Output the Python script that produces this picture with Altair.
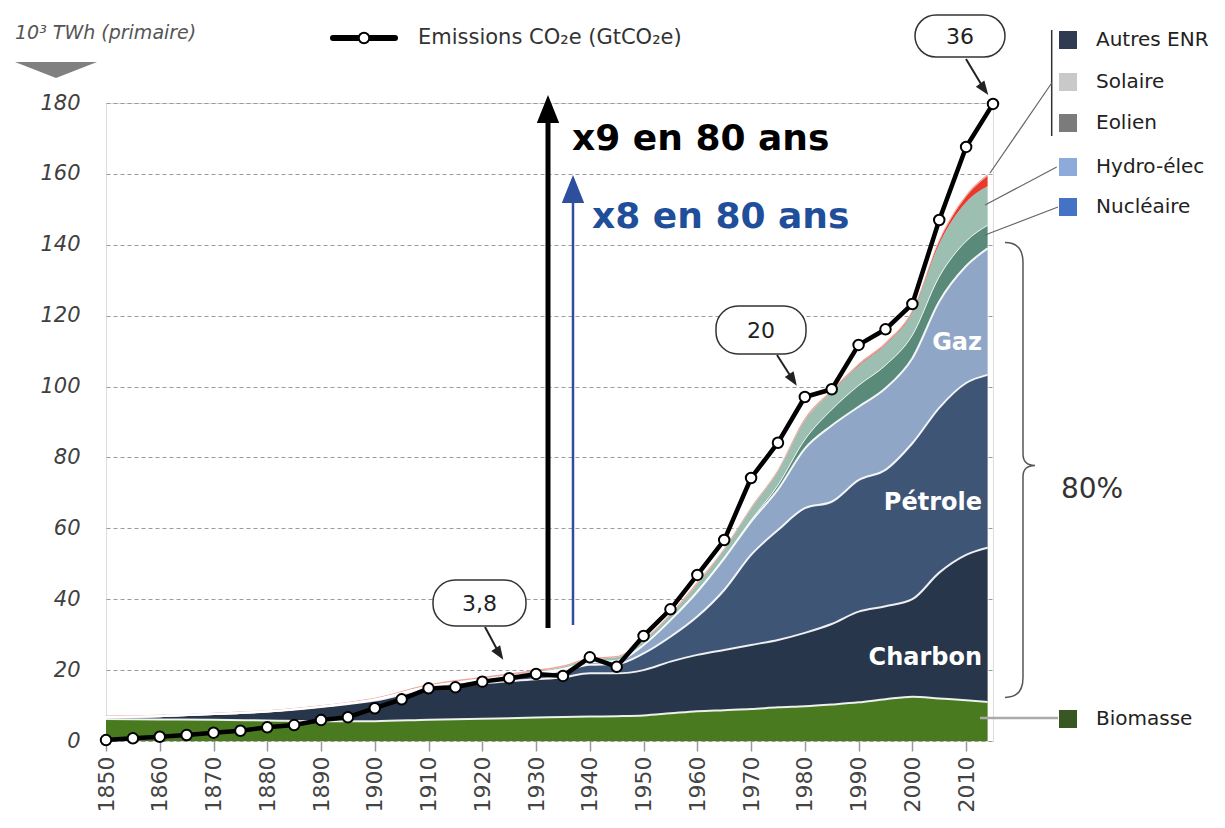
import altair as alt
import pandas as pd

# ---------------- data ----------------
years = [1850, 1860, 1870, 1880, 1890, 1900, 1910, 1920, 1930, 1935, 1940, 1945, 1950,
         1955, 1960, 1965, 1970, 1975, 1980, 1985, 1990, 1995, 2000, 2005, 2010, 2014]

biomasse = [6.2, 6.1, 6.0, 5.8, 5.6, 5.6, 6.0, 6.3, 6.6, 6.8, 6.9, 7.0, 7.2,
            7.8, 8.4, 8.7, 9.0, 9.5, 9.8, 10.3, 10.9, 11.8, 12.5, 12.0, 11.5, 11.0]
charbon = [0.6, 0.9, 1.6, 2.5, 4.0, 5.8, 8.8, 10.0, 10.8, 11.2, 12.2, 12.1, 12.8,
           14.6, 15.9, 17.0, 18.1, 19.0, 20.7, 22.7, 25.6, 26.2, 27.5, 35.5, 41.0, 43.5]
petrole = [0.0, 0.0, 0.0, 0.0, 0.1, 0.3, 0.5, 0.9, 1.4, 1.8, 2.4, 2.6, 4.7,
           7.0, 10.8, 16.9, 25.4, 31.0, 35.2, 34.5, 37.1, 38.5, 44.0, 46.5, 48.5, 48.8]
gaz = [0.0, 0.0, 0.0, 0.0, 0.0, 0.0, 0.1, 0.2, 0.4, 0.5, 0.7, 0.9, 2.4,
       4.7, 7.0, 8.9, 9.4, 11.5, 16.8, 21.5, 20.7, 23.0, 24.0, 30.0, 33.0, 35.7]
nucleaire = [0.0, 0.0, 0.0, 0.0, 0.0, 0.0, 0.0, 0.0, 0.0, 0.0, 0.0, 0.0, 0.0,
             0.0, 0.1, 0.2, 0.4, 1.2, 2.5, 4.5, 6.0, 6.5, 6.5, 7.0, 7.0, 6.5]
hydro = [0.0, 0.0, 0.0, 0.0, 0.0, 0.1, 0.2, 0.3, 0.5, 0.6, 0.9, 1.0, 1.3,
         1.5, 2.2, 2.3, 3.3, 4.0, 5.5, 5.1, 5.6, 5.9, 6.4, 9.3, 11.0, 11.0]
eolien_solaire = [0.0, 0.0, 0.0, 0.0, 0.0, 0.0, 0.0, 0.0, 0.0, 0.0, 0.0, 0.0, 0.0,
                  0.0, 0.0, 0.0, 0.0, 0.0, 0.0, 0.1, 0.2, 0.2, 0.3, 0.7, 1.6, 3.0]
autres_enr = [0.4, 0.4, 0.4, 0.4, 0.4, 0.4, 0.4, 0.4, 0.4, 0.4, 0.4, 0.4, 0.4,
              0.4, 0.5, 0.4, 0.4, 0.4, 0.6, 0.4, 0.4, 0.4, 0.4, 0.5, 0.5, 0.5]

layer_names = ["Biomasse", "Charbon", "Pétrole", "Gaz", "Nucléaire", "Hydro-élec",
               "Eolien/Solaire", "Autres ENR"]
layer_values = [biomasse, charbon, petrole, gaz, nucleaire, hydro, eolien_solaire, autres_enr]
layer_colors = ["#4a7a20", "#28364b", "#3f5575", "#8fa6c6", "#5a8b7a", "#9dbfb2",
                "#e8392c", "#f2a59c"]

em_years = [1850, 1855, 1860, 1865, 1870, 1875, 1880, 1885, 1890, 1895, 1900, 1905,
            1910, 1915, 1920, 1925, 1930, 1935, 1940, 1945, 1950, 1955, 1960, 1965,
            1970, 1975, 1980, 1985, 1990, 1995, 2000, 2005, 2010, 2015]
em_gt = [0.05, 0.15, 0.24, 0.34, 0.47, 0.58, 0.77, 0.90, 1.18, 1.34, 1.85, 2.35,
         2.97, 3.03, 3.35, 3.54, 3.78, 3.67, 4.72, 4.19, 5.93, 7.43, 9.37, 11.34,
         14.84, 16.83, 19.41, 19.85, 22.35, 23.23, 24.66, 29.40, 33.52, 35.95]

x_ticks = list(range(1850, 2011, 10))
y_ticks = list(range(0, 181, 20))

legend_names = ["Autres ENR", "Solaire", "Eolien", "Hydro-élec", "Nucléaire", "Biomasse"]
legend_colors = ["#2f3b50", "#c9c9c9", "#7b7b7b", "#8eaadb", "#4472c4", "#385723"]

FONT = "DejaVu Sans"

rows = []
for i, (name, vals) in enumerate(zip(layer_names, layer_values)):
    for yr, v in zip(years, vals):
        rows.append({"year": yr, "layer": name, "order": i, "value": v})
df = pd.DataFrame(rows)
em_df = pd.DataFrame({"year": em_years, "gt": em_gt})

xs = alt.Scale(domain=[1850, 2015], nice=False, zero=False)
ys = alt.Scale(domain=[0, 180], nice=False)

base = alt.Chart(df).transform_stack(
    stack="value", groupby=["year"], as_=["y0", "y1"],
    sort=[alt.SortField("order", order="ascending")]
)

areas = base.mark_area(interpolate="monotone").encode(
    x=alt.X("year:Q", scale=xs, title=None,
            axis=alt.Axis(values=x_ticks, format="d", labelAngle=270, grid=False,
                          domain=False, ticks=True, tickColor="#999999", tickSize=10,
                          tickWidth=1.5, labelPadding=5, labelFont=FONT, labelFontSize=22,
                          labelColor="#444444", labelOverlap=False, labelFlush=False)),
    y=alt.Y("y1:Q", scale=ys, title=None,
            axis=alt.Axis(values=y_ticks, grid=True, gridDash=[4, 3], gridColor="#9a9a9a",
                          gridWidth=1.2, domain=False, ticks=False, labelPadding=26,
                          labelFont=FONT, labelFontStyle="italic", labelFontSize=21,
                          labelColor="#404040")),
    y2="y0:Q",
    color=alt.Color("layer:N", scale=alt.Scale(domain=layer_names, range=layer_colors),
                    legend=None),
)

sep_lines = base.transform_filter("datum.order <= 3").mark_line(
    interpolate="monotone", color="white", strokeWidth=2, opacity=0.9
).encode(x=alt.X("year:Q", scale=xs), y=alt.Y("y1:Q", scale=ys), detail="layer:N")

sep_thin = base.transform_filter("datum.order == 4").mark_line(
    interpolate="monotone", color="white", strokeWidth=1, opacity=0.8
).encode(x=alt.X("year:Q", scale=xs), y=alt.Y("y1:Q", scale=ys), detail="layer:N")

em_base = alt.Chart(em_df).transform_calculate(scaled="datum.gt * 5")
em_line = em_base.mark_line(color="black", strokeWidth=4.5).encode(
    x=alt.X("year:Q", scale=xs), y=alt.Y("scaled:Q", scale=ys))
em_pts = em_base.mark_point(shape="circle", filled=True, fill="white", stroke="black",
                            strokeWidth=2, size=110, opacity=1).encode(
    x=alt.X("year:Q", scale=xs), y=alt.Y("scaled:Q", scale=ys))

# ---------------- annotations (pixel positions relative to plot) ----------------
one = pd.DataFrame({"k": [0]})


def txt(s, x, y, **kw):
    kw.setdefault("font", FONT)
    return alt.Chart(one).mark_text(text=s, **kw).encode(x=alt.value(x), y=alt.value(y))


def seg(x1, y1, x2, y2, **kw):
    return alt.Chart(one).mark_rule(**kw).encode(
        x=alt.value(x1), y=alt.value(y1), x2=alt.value(x2), y2=alt.value(y2))


def sym(x, y, **kw):
    return alt.Chart(one).mark_point(opacity=1, **kw).encode(x=alt.value(x), y=alt.value(y))


def box(x1, x2, y1, y2):
    return alt.Chart(one).mark_rect(cornerRadius=22, fill="white", stroke="#333333",
                                    strokeWidth=1.5).encode(
        x=alt.value(x1), x2=alt.value(x2), y=alt.value(y1), y2=alt.value(y2))


HEAD = "M 0 -1 L 0.8 1 L -0.8 1 Z"
SMALL_HEAD = "M 0 -1 L 0.75 1 L -0.75 1 Z"
BRACE = ("M -0.079 -1 Q 0 -1 0 -0.912 L 0 -0.07 Q 0 -0.02 0.053 -0.02 Q 0 -0.02 0 0.03 "
         "L 0 0.912 Q 0 1 -0.079 1")
TRI = "M -1 -0.195 L 1 -0.195 L 0 0.195 Z"

ann = []
# top legend for emissions
ann.append(seg(227, -65, 289, -65, color="black", strokeWidth=6, strokeCap="round"))
ann.append(sym(258, -65, shape="circle", filled=True, fill="white", stroke="black",
               strokeWidth=2, size=110))
ann.append(txt("Emissions CO₂e (GtCO₂e)", 312, -65, align="left", baseline="middle",
               fontSize=21, color="#333333"))
# y title
ann.append(txt("10³ TWh (primaire)", -91, -70, align="left", baseline="middle",
               fontSize=19, fontStyle="italic", color="#555555"))
ann.append(sym(-50, -33, shape=TRI, filled=True, fill="#808080", strokeWidth=0, size=6724))

# big arrows
ann.append(seg(442, 525, 442, 10, color="black", strokeWidth=5))
ann.append(sym(442, 6, shape=HEAD, filled=True, fill="black", strokeWidth=0, size=784))
ann.append(seg(467, 522, 467, 90, color="#2d4f9e", strokeWidth=2.5))
ann.append(sym(467, 86, shape=HEAD, filled=True, fill="#2d4f9e", strokeWidth=0, size=784))
ann.append(txt("x9 en 80 ans", 466, 47, align="left", baseline="alphabetic",
               fontSize=36, fontWeight="bold", color="black"))
ann.append(txt("x8 en 80 ans", 486, 125, align="left", baseline="alphabetic",
               fontSize=36, fontWeight="bold", color="#1f4e9b"))

# callouts
for (label, bx1, bx2, by1, by2, sx, sy, hx, hy, ang) in [
    ("3,8", 327, 420, 477, 523, 379, 524, 393.5, 551.0, 147),
    ("20", 610, 700, 203, 251, 671, 252, 687.0, 277.0, 147),
    ("36", 809, 899, -88, -46, 860, -44, 878.2, -13.7, 144),
]:
    ann.append(seg(sx, sy, hx, hy, color="#222222", strokeWidth=2))
    ann.append(sym(hx, hy, shape=SMALL_HEAD, filled=True, fill="#222222", strokeWidth=0,
                   size=196, angle=ang))
    ann.append(box(bx1, bx2, by1, by2))
    ann.append(txt(label, (bx1 + bx2) / 2, (by1 + by2) / 2 + 1, align="center",
                   baseline="middle", fontSize=22, color="#222222"))

# labels inside areas
for label, ly in [("Gaz", 240), ("Pétrole", 400), ("Charbon", 555)]:
    ann.append(txt(label, 876, ly, align="right", baseline="middle", fontSize=24,
                   fontWeight="bold", color="white"))

# right legend
ann.append(seg(945.7, -73, 945.7, 33, color="#333333", strokeWidth=1.5))
ann.append(seg(945.7, -20, 884, 70, color="#666666", strokeWidth=1.2))
ann.append(seg(950.7, 64, 879, 102, color="#666666", strokeWidth=1.2))
ann.append(seg(952, 104, 879, 132, color="#666666", strokeWidth=1.2))
ann.append(seg(874, 615, 952, 615, color="#aaaaaa", strokeWidth=2.5))
for name, col, ly in zip(legend_names, legend_colors, [-63, -21, 20, 64, 104, 616]):
    ann.append(sym(962, ly, shape="square", filled=True, fill=col, strokeWidth=0, size=324))
    ann.append(txt(name, 990, ly, align="left", baseline="middle", fontSize=20,
                   color="#222222"))

# brace and 80%
ann.append(sym(917, 367, shape=BRACE, filled=False, stroke="#555555", strokeWidth=1.5,
               size=207025))
ann.append(txt("80%", 986, 387, align="center", baseline="middle", fontSize=28,
               color="#333333"))

chart = alt.layer(areas, sep_lines, sep_thin, em_line, em_pts, *ann).properties(
    width=887, height=638,
    autosize=alt.AutoSizeParams(type="none"),
    padding={"left": 98, "top": 95, "right": 224, "bottom": 75},
).configure_view(stroke=None).configure(background="white")

chart.save("out.html", embed_options={"renderer": "svg", "actions": False})
